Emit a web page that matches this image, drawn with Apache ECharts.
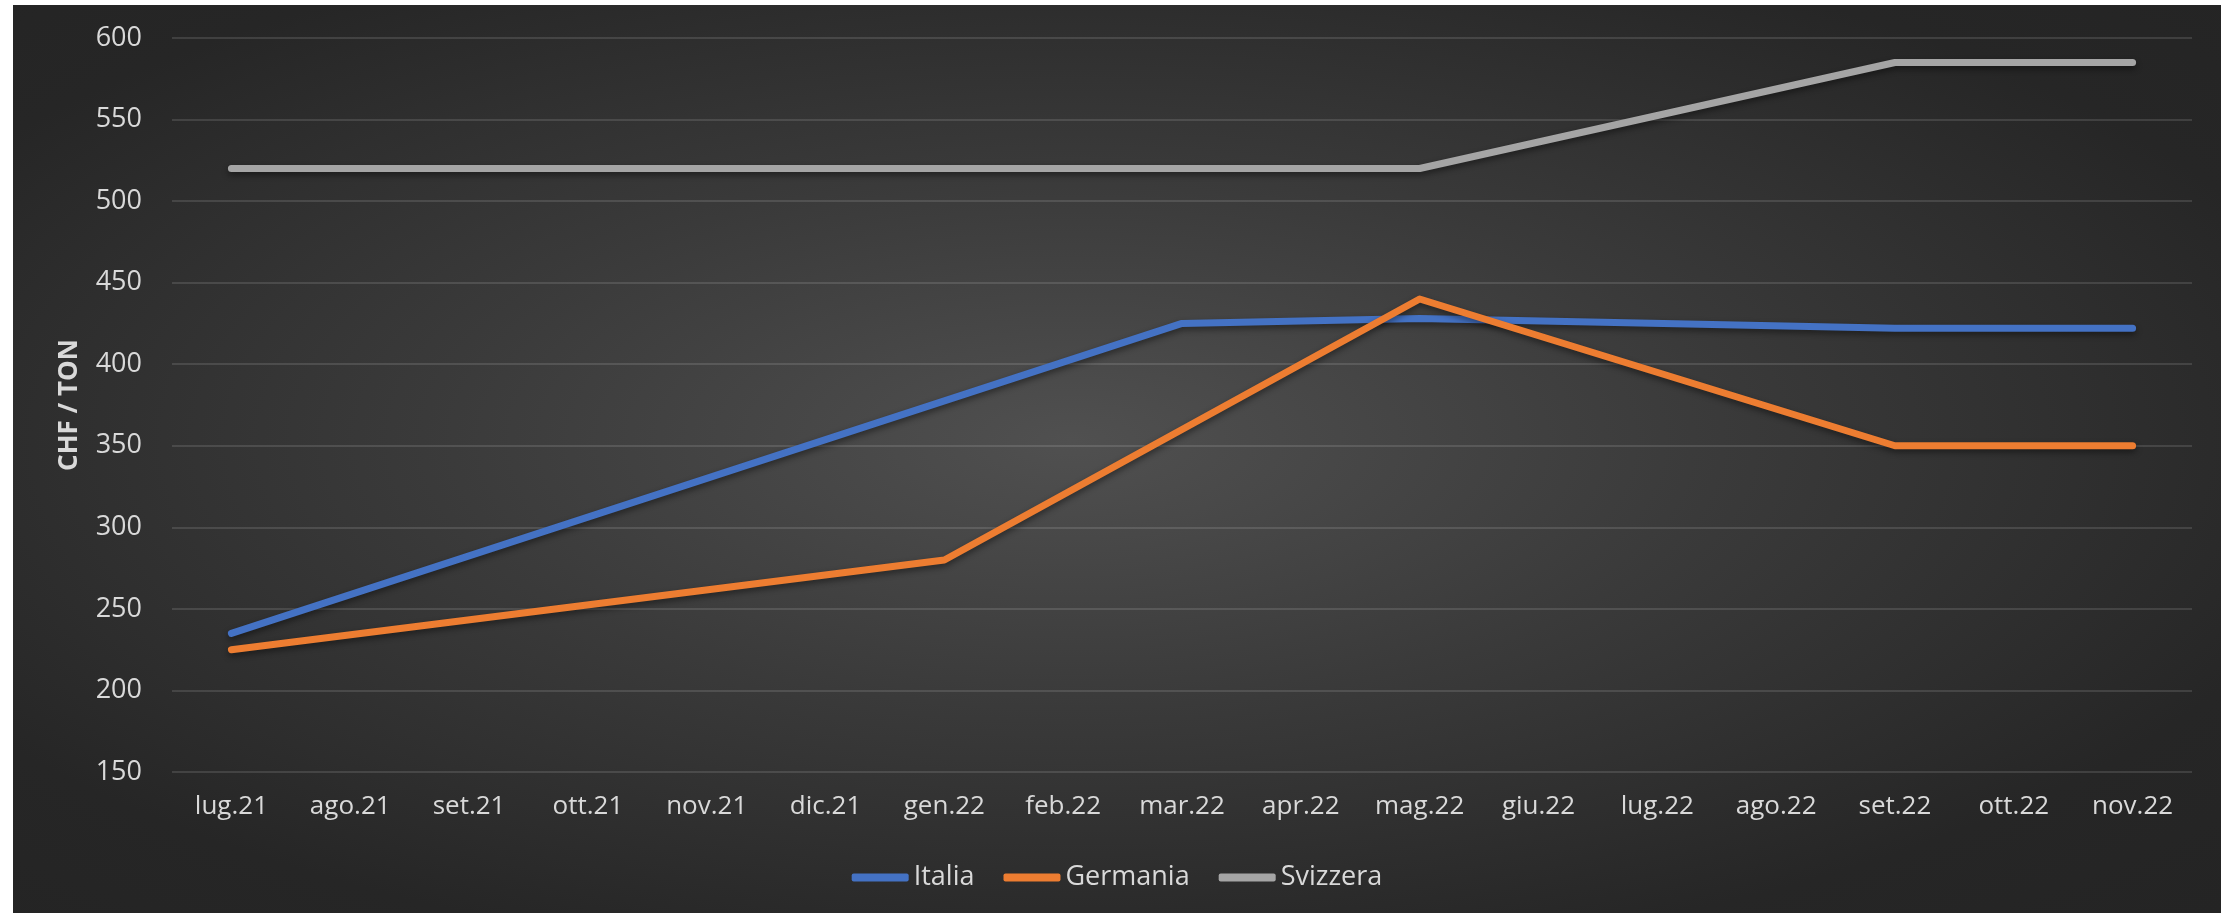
<!DOCTYPE html>
<html lang="it">
<head>
    <meta charset="UTF-8">
    <script src="https://cdn.jsdelivr.net/npm/echarts@6/dist/echarts.min.js"></script>
    <style>
        body { margin: 0; background: #ffffff; }
        #main {
            position: absolute; left: 13px; top: 5px;
            width: 2208px; height: 908px;
            background: radial-gradient(ellipse farthest-corner at 48% 48%, #505050 0%, #3a3a3a 40%, #262626 80%, #242424 100%);
        }
    </style>
</head>
<body>
<div id="main"></div>
<script type="text/javascript">
    // mesi (asse x)
    var mesi = ['lug.21','ago.21','set.21','ott.21','nov.21','dic.21','gen.22','feb.22','mar.22',
                'apr.22','mag.22','giu.22','lug.22','ago.22','set.22','ott.22','nov.22'];
    // valori CHF / TON (null = nessun dato, la linea collega i punti)
    var italia    = [235, null, null, null, null, null, null, null, 425, null, 428, null, null, null, 422, null, 422];
    var germania  = [225, null, null, null, null, null, 280, null, null, null, 440, null, null, null, 350, null, 350];
    var svizzera  = [520, null, null, null, null, null, null, null, null, null, 520, null, null, null, 585, null, 585];
    var yTicks = [150, 200, 250, 300, 350, 400, 450, 500, 550, 600];

    var myChart = echarts.init(document.getElementById('main'));
    var font = 'Open Sans';

    function serie(nome, dati, colore) {
        return {
            name: nome,
            type: 'line',
            data: dati,
            connectNulls: true,
            symbol: 'none',
            lineStyle: {
                color: colore, width: 7, cap: 'round', join: 'round',
                shadowColor: 'rgba(0,0,0,0.45)', shadowBlur: 6, shadowOffsetY: 3
            },
            itemStyle: { color: colore }
        };
    }

    var option = {
        backgroundColor: 'transparent',
        animation: false,
        grid: { left: 159, right: 29, top: 33, bottom: 141 },
        legend: {
            bottom: 17,
            left: 'center',
            icon: 'roundRect',
            itemWidth: 57,
            itemHeight: 8,
            itemGap: 29,
            textStyle: { color: '#d9d9d9', fontSize: 27, fontFamily: font },
            data: ['Italia', 'Germania', 'Svizzera']
        },
        xAxis: {
            type: 'category',
            data: mesi,
            boundaryGap: true,
            axisLine: { show: false },
            axisTick: { show: false },
            axisLabel: { color: '#d9d9d9', fontSize: 26, fontFamily: font, margin: 22 }
        },
        yAxis: {
            type: 'value',
            min: yTicks[0],
            max: yTicks[yTicks.length - 1],
            interval: 50,
            name: 'CHF / TON',
            nameLocation: 'middle',
            nameGap: 89,
            nameTextStyle: { color: '#d9d9d9', fontSize: 26, fontWeight: 'bold', fontFamily: font },
            axisLine: { show: false },
            axisTick: { show: false },
            axisLabel: { color: '#d9d9d9', fontSize: 27, fontFamily: font, margin: 30 },
            splitLine: { lineStyle: { color: 'rgba(255,255,255,0.12)', width: 2 } }
        },
        series: [
            serie('Italia', italia, '#4472C4'),
            serie('Germania', germania, '#ED7D31'),
            serie('Svizzera', svizzera, '#A5A5A5')
        ]
    };

    myChart.setOption(option);
</script>
</body>
</html>
